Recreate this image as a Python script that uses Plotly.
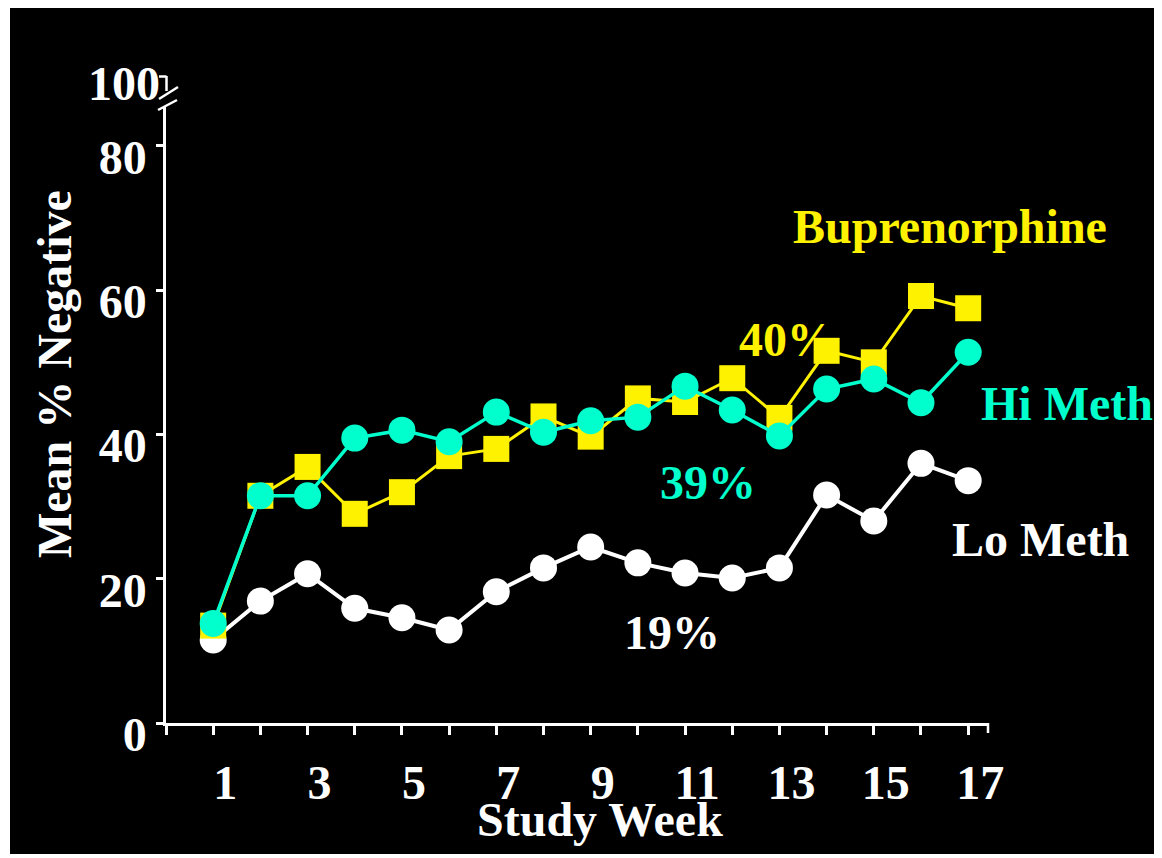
import plotly.graph_objects as go

weeks = list(range(1, 18))
bup = [13.5, 31.5, 35.5, 29, 32, 37, 38, 42.5, 39.7, 45, 44.5, 47.8, 42.3, 51.6, 50, 59.2, 57.5]
hi_meth = [13.8, 31.5, 31.5, 39.5, 40.6, 39, 43.1, 40.3, 41.9, 42.4, 46.7, 43.4, 39.8, 46.3, 47.7, 44.4, 51.4]
lo_meth = [11.5, 16.9, 20.7, 15.9, 14.6, 12.9, 18.2, 21.5, 24.4, 22.2, 20.8, 20.1, 21.5, 31.6, 28, 36, 33.6]
y_ticks = [0, 20, 40, 60, 80]
x_tick_labels = [1, 3, 5, 7, 9, 11, 13, 15, 17]

YELLOW = "#FFF200"
CYAN = "#00FFCC"
WHITE = "#FFFFFF"
FONT = "Liberation Serif"

OFF = 8  # page body margin
W, H = 1154, 846
L, T = 166 - OFF, 107 - OFF
R = W - (988 - OFF)
B = H - (723 - OFF)
PW, PH = W - L - R, H - T - B


def px(x):
    return (x - OFF - L) / PW


def py(y):
    return (H - B - (y - OFF)) / PH


fig = go.Figure()
fig.add_trace(go.Scatter(x=weeks, y=lo_meth, mode="lines+markers", name="Lo Meth",
                         line=dict(color=WHITE, width=4),
                         marker=dict(symbol="circle", size=27, color=WHITE)))
fig.add_trace(go.Scatter(x=weeks, y=bup, mode="lines+markers", name="Buprenorphine",
                         line=dict(color=YELLOW, width=3),
                         marker=dict(symbol="square", size=26, color=YELLOW)))
fig.add_trace(go.Scatter(x=weeks, y=hi_meth, mode="lines+markers", name="Hi Meth",
                         line=dict(color=CYAN, width=3.5),
                         marker=dict(symbol="circle", size=27, color=CYAN)))

bold = dict(family=FONT, size=48, weight="bold")

fig.update_layout(
    width=W, height=H,
    margin=dict(l=L, r=R, t=T, b=B),
    paper_bgcolor="white", plot_bgcolor="black",
    showlegend=False,
    xaxis=dict(range=[0, 17.42], showgrid=False, zeroline=False,
               showline=True, linecolor=WHITE, linewidth=2.5,
               tickmode="array", tickvals=x_tick_labels,
               ticktext=[str(v) for v in x_tick_labels],
               ticks="outside", ticklen=9, tickwidth=2.5, tickcolor=WHITE,
               tickfont=dict(bold, color=WHITE), ticklabelstandoff=7,
               ticklabelshift=12,
               minor=dict(dtick=1, tick0=0, ticks="outside", ticklen=9,
                          tickwidth=2.5, tickcolor=WHITE, showgrid=False)),
    yaxis=dict(range=[0, 85.4], showgrid=False, zeroline=False,
               showline=True, linecolor=WHITE, linewidth=2.5,
               tickmode="array", tickvals=y_ticks,
               ticks="outside", ticklen=7, tickwidth=2.5, tickcolor=WHITE,
               tickfont=dict(bold, color=WHITE), ticklabelstandoff=0,
               ticklabelshift=11),
)

shapes = [
    dict(type="rect", xref="paper", yref="paper", x0=px(10), x1=px(1170),
         y0=py(860), y1=py(7), fillcolor="black", line=dict(width=0), layer="below"),
    # axis break marks
    dict(type="line", xref="paper", yref="paper", x0=px(159), y0=py(99), x1=px(178), y1=py(87),
         line=dict(color=WHITE, width=2.5)),
    dict(type="line", xref="paper", yref="paper", x0=px(158), y0=py(110), x1=px(177), y1=py(100),
         line=dict(color=WHITE, width=2.5)),
    dict(type="line", xref="paper", yref="paper", x0=px(166.5), y0=py(76), x1=px(166.5), y1=py(91),
         line=dict(color=WHITE, width=2.5)),
    dict(type="line", xref="paper", yref="paper", x0=px(159), y0=py(76.5), x1=px(166.5), y1=py(76.5),
         line=dict(color=WHITE, width=2.5)),
    # final x tick at axis end
    dict(type="line", xref="paper", yref="paper", x0=1, y0=py(723), x1=1, y1=py(733),
         line=dict(color=WHITE, width=2.5)),
]
fig.update_layout(shapes=shapes)

ann = [
    ("100", 124, 83, WHITE),
    ("Study Week", 600, 819, WHITE),
    ("Buprenorphine", 950, 226, YELLOW),
    ("Hi Meth", 1067, 404, CYAN),
    ("Lo Meth", 1040, 539, WHITE),
    ("40%", 787, 339, YELLOW),
    ("39%", 708, 482, CYAN),
    ("19%", 672, 632, WHITE),
]
for text, x, y, c in ann:
    fig.add_annotation(text=text, xref="paper", yref="paper", x=px(x), y=py(y),
                       xanchor="center", yanchor="middle", showarrow=False,
                       font=dict(bold, color=c))
fig.add_annotation(text="Mean % Negative", xref="paper", yref="paper", x=px(54), y=py(374),
                   xanchor="center", yanchor="middle", showarrow=False, textangle=-90,
                   font=dict(bold, color=WHITE))

fig.write_html("out.html")
